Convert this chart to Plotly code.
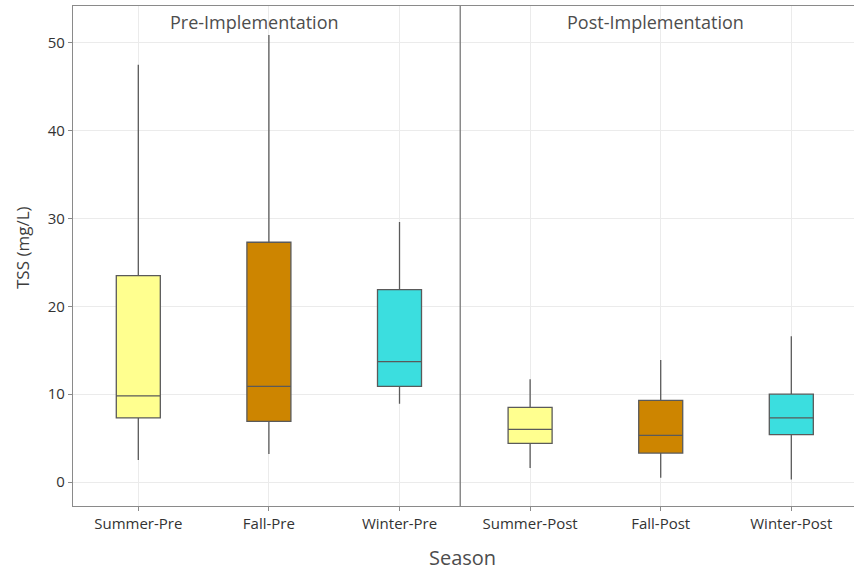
import plotly.graph_objects as go

# Seasonal TSS box statistics before and after implementation
seasons = ["Summer-Pre", "Fall-Pre", "Winter-Pre", "Summer-Post", "Fall-Post", "Winter-Post"]
lower_whisker = [2.5, 3.2, 8.9, 1.6, 0.5, 0.3]
q1 = [7.3, 6.9, 10.9, 4.4, 3.3, 5.4]
median = [9.8, 10.9, 13.7, 6.0, 5.3, 7.3]
q3 = [23.5, 27.3, 21.9, 8.5, 9.3, 10.0]
upper_whisker = [47.5, 50.9, 29.6, 11.7, 13.9, 16.6]
fill_colors = ["#FFFF8F", "#CD8500", "#3BDEDF", "#FFFF8F", "#CD8500", "#3BDEDF"]
panel_labels = ["Pre-Implementation", "Post-Implementation"]

FONT = "Open Sans"
AXIS_COLOR = "#8a8a8a"
TEXT_COLOR = "#333333"
TITLE_COLOR = "#4d4d4d"

fig = go.Figure()
for i, s in enumerate(seasons):
    fig.add_trace(go.Box(
        x=[s],
        q1=[q1[i]],
        median=[median[i]],
        q3=[q3[i]],
        lowerfence=[lower_whisker[i]],
        upperfence=[upper_whisker[i]],
        fillcolor=fill_colors[i],
        line=dict(color="#5a5a5a", width=1.3),
        whiskerwidth=0,
        width=0.337,
        boxpoints=False,
        showlegend=False,
        hoverinfo="skip",
    ))

# divider between the two periods
fig.add_shape(type="line", xref="x", yref="paper", x0=2.465, x1=2.465, y0=0, y1=1,
              line=dict(color="#7a7a7a", width=1.3))

# period labels at the top of each half
for xpos, label in zip([0.89, 3.96], panel_labels):
    fig.add_annotation(x=xpos, y=52.4, xref="x", yref="y", yanchor="middle",
                       text=label, showarrow=False,
                       font=dict(family=FONT, size=18, color=TITLE_COLOR))

# axis titles
fig.add_annotation(x=-0.0653, y=0.516, xref="paper", yref="paper",
                   text="TSS (mg/L)", textangle=-90, showarrow=False,
                   xanchor="center", yanchor="middle",
                   font=dict(family=FONT, size=17, color="#3d3d3d"))
fig.add_annotation(x=0.4993, y=-0.102, xref="paper", yref="paper",
                   text="Season", showarrow=False,
                   xanchor="center", yanchor="middle",
                   font=dict(family=FONT, size=20, color=TITLE_COLOR))

fig.update_layout(
    width=854, height=570,
    margin=dict(l=73, r=0, t=6, b=64),
    paper_bgcolor="white", plot_bgcolor="white",
    font=dict(family=FONT, color=TEXT_COLOR),
    xaxis=dict(
        type="category",
        categoryorder="array", categoryarray=seasons,
        range=[-0.5, 5.48],
        showgrid=True, gridcolor="#EBEBEB", gridwidth=1,
        showline=True, linecolor=AXIS_COLOR, linewidth=1.3, mirror=True,
        ticks="outside", ticklen=4, tickcolor=AXIS_COLOR,
        tickfont=dict(family=FONT, size=15, color=TEXT_COLOR),
    ),
    yaxis=dict(
        range=[-2.73, 54.2],
        tickvals=[0, 10, 20, 30, 40, 50],
        showgrid=True, gridcolor="#EBEBEB", gridwidth=1,
        zeroline=False,
        showline=True, linecolor=AXIS_COLOR, linewidth=1.3,
        ticks="outside", ticklen=4, tickcolor=AXIS_COLOR,
        tickfont=dict(family=FONT, size=15, color=TEXT_COLOR),
    ),
)

fig.write_html("out.html")
